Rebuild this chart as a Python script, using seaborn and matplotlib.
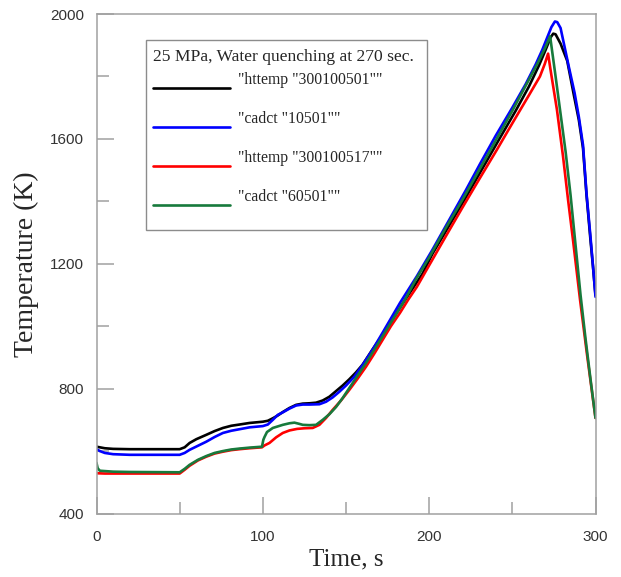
import matplotlib
matplotlib.use("Agg")
import matplotlib.pyplot as plt
from matplotlib.lines import Line2D
from matplotlib.patches import Rectangle
from matplotlib.ticker import MultipleLocator
import pandas as pd
import seaborn as sns

# ---- data: time (s) and temperature (K) for each run ----
t_black = [0, 2, 5, 10, 20, 30, 40, 50, 53, 56, 60, 66, 71, 76, 81, 86, 92, 100, 103, 106,
           109, 112, 116, 120, 124, 128, 132, 136, 140, 144, 148, 152, 156, 160, 166, 172,
           178, 184, 190, 196, 202, 212, 222, 232, 242, 252, 260, 266, 270, 273, 274.6,
           276, 279, 283, 287, 290, 292.5, 294.6, 297, 298.5, 300]
T_black = [614, 612, 609, 607, 606, 606, 606, 606, 612, 626, 638, 652, 664, 674, 681, 685, 690, 694, 697, 705,
           714, 725, 738, 748, 752, 753, 755, 762, 774, 792, 810, 830, 852, 877, 926, 972,
           1022, 1072, 1120, 1168, 1232, 1322, 1412, 1505, 1598, 1690, 1768, 1835, 1885, 1925, 1937,
           1935, 1905, 1850, 1740, 1660, 1570, 1420, 1275, 1190, 1100]

t_blue = [0, 2, 5, 10, 20, 30, 40, 50, 53, 56, 61, 66, 71, 76, 81, 86, 92, 100, 103, 106,
          109, 112, 116, 120, 124, 128, 134, 138, 142, 146, 150, 155, 160, 166, 172,
          182.5, 192.6, 202, 212, 222, 230.6, 240, 250, 258, 264, 268, 271, 273.5, 275.6,
          277, 279, 281, 284, 287.4, 290, 292.5, 294.6, 297, 298.5, 300]
T_blue = [606, 600, 594, 590, 588, 588, 588, 588, 594, 604, 617, 630, 645, 658, 665, 670, 676, 680, 685, 700,
          716, 724, 736, 746, 749, 749, 750, 758, 772, 790, 810, 838, 876, 925, 979,
          1075, 1160, 1245, 1340, 1435, 1520, 1610, 1700, 1775, 1838, 1885, 1925, 1958, 1976,
          1974, 1955, 1905, 1830, 1748, 1670, 1580, 1425, 1285, 1192, 1094]

t_red = [0, 5, 20, 50, 53, 56, 61, 66, 71, 76, 81, 86, 92, 99.5, 101, 104, 108, 112, 116,
         120.6, 125, 130, 134, 138, 142, 147, 152, 157, 162, 167, 172, 177, 182.5, 187.4,
         192.6, 200, 210, 220, 230, 240.8, 250, 260, 266.6, 269.5, 271.5,
         273, 276.8, 280.5, 283.5, 286.5, 290.7, 294.9, 298.5, 300]
T_red = [529, 528, 528, 528, 540, 553, 570, 582, 592, 598, 603, 606, 609, 612, 618, 626, 644, 658, 666,
         671, 673, 674, 684, 706, 732, 762, 796, 832, 870, 912, 956, 1000, 1043, 1085,
         1126, 1195, 1288, 1380, 1470, 1566, 1650, 1740, 1800, 1840, 1873,
         1820, 1694, 1543, 1405, 1275, 1085, 909, 765, 706]

t_green = [0, 0.7, 2, 10, 20, 50, 53, 56, 61, 66, 71, 76, 81, 86, 92, 99.5, 100.3, 101, 102.5,
           106, 112, 116, 119, 122, 124, 128, 132, 136, 140, 144, 148, 152, 157, 162, 167,
           172, 177, 185.5, 192, 200, 210, 220, 230, 237, 250, 260, 265, 270, 272.7,
           276, 279, 282, 285, 288, 291, 294, 297, 300]
T_green = [562, 545, 537, 534, 533, 532, 543, 556, 572, 584, 594, 600, 605, 608, 611, 614, 636, 645, 661,
           674, 684, 689, 691, 687, 684, 683, 684, 700, 718, 741, 770, 802, 842, 882, 925,
           968, 1012, 1085, 1150, 1220, 1315, 1405, 1500, 1566, 1690, 1790, 1840, 1895, 1929,
           1800, 1680, 1560, 1420, 1260, 1100, 960, 830, 706]

series_labels = ['"httemp "300100501""', '"cadct "10501""',
                 '"httemp "300100517""', '"cadct "60501""']
series_colors = ["#000000", "#0000ff", "#ff0000", "#177a3c"]
legend_title = "25 MPa, Water quenching at 270 sec."

x_ticks = [0, 100, 200, 300]
y_ticks = [400, 800, 1200, 1600, 2000]

# ---- figure ----
sns.set_style("white")
W, H = 621, 577
fig = plt.figure(figsize=(W / 100, H / 100), dpi=100)
ax = fig.add_axes([96.5 / W, 1 - 513.5 / H, 499 / W, 499.5 / H])

frame_grey = "#a0a0a0"
series = [(t_black, T_black), (t_blue, T_blue), (t_red, T_red), (t_green, T_green)]
for (tt, TT), col, lab in zip(series, series_colors, series_labels):
    df = pd.DataFrame({"Time": tt, "Temperature": TT})
    sns.lineplot(data=df, x="Time", y="Temperature", ax=ax, color=col, lw=1.9,
                 sort=False, estimator=None, label=lab, legend=False)

ax.set_xlim(0, 300)
ax.set_ylim(400, 2000)
ax.set_xticks(x_ticks)
ax.set_yticks(y_ticks)
ax.xaxis.set_minor_locator(MultipleLocator(50))
ax.yaxis.set_minor_locator(MultipleLocator(200))
ax.tick_params(which="both", direction="in", color=frame_grey, width=1.1,
               bottom=True, left=True, top=False, right=False,
               labelsize=11, labelcolor="#333333", labelfontfamily="Liberation Sans")
ax.tick_params(which="major", length=12.5)
ax.tick_params(which="minor", length=8.5)
ax.tick_params(axis="y", which="major", pad=9)
ax.tick_params(axis="x", which="major", pad=12)
for sp in ax.spines.values():
    sp.set_color(frame_grey)
    sp.set_linewidth(1.1)

ax.set_xlabel("Time, s", fontsize=18, family="Liberation Serif", labelpad=3)
ax.set_ylabel("Temperature (K)", fontsize=20, family="Liberation Serif", labelpad=8)

# ---- boxed key with long line samples ----
def fx(px):
    return px / W

def fy(py):
    return 1 - py / H

fig.patches.append(Rectangle((fx(146), fy(230)), fx(427) - fx(146), fy(40) - fy(230),
                             transform=fig.transFigure, facecolor="white",
                             edgecolor="#8c8c8c", lw=1.0, zorder=5))
fig.text(fx(153), fy(57), legend_title, family="Liberation Serif", fontsize=12.6,
         va="center", ha="left", zorder=6)
line_y = [88, 127, 166, 205]
for ly, col, lab in zip(line_y, series_colors, series_labels):
    fig.lines.append(Line2D([fx(153), fx(230)], [fy(ly), fy(ly)], color=col, lw=1.9,
                            transform=fig.transFigure, zorder=6))
    fig.text(fx(238), fy(ly - 8), lab, family="Liberation Serif", fontsize=11.3,
             va="center", ha="left", zorder=6)

fig.savefig("out.png", dpi=100)
